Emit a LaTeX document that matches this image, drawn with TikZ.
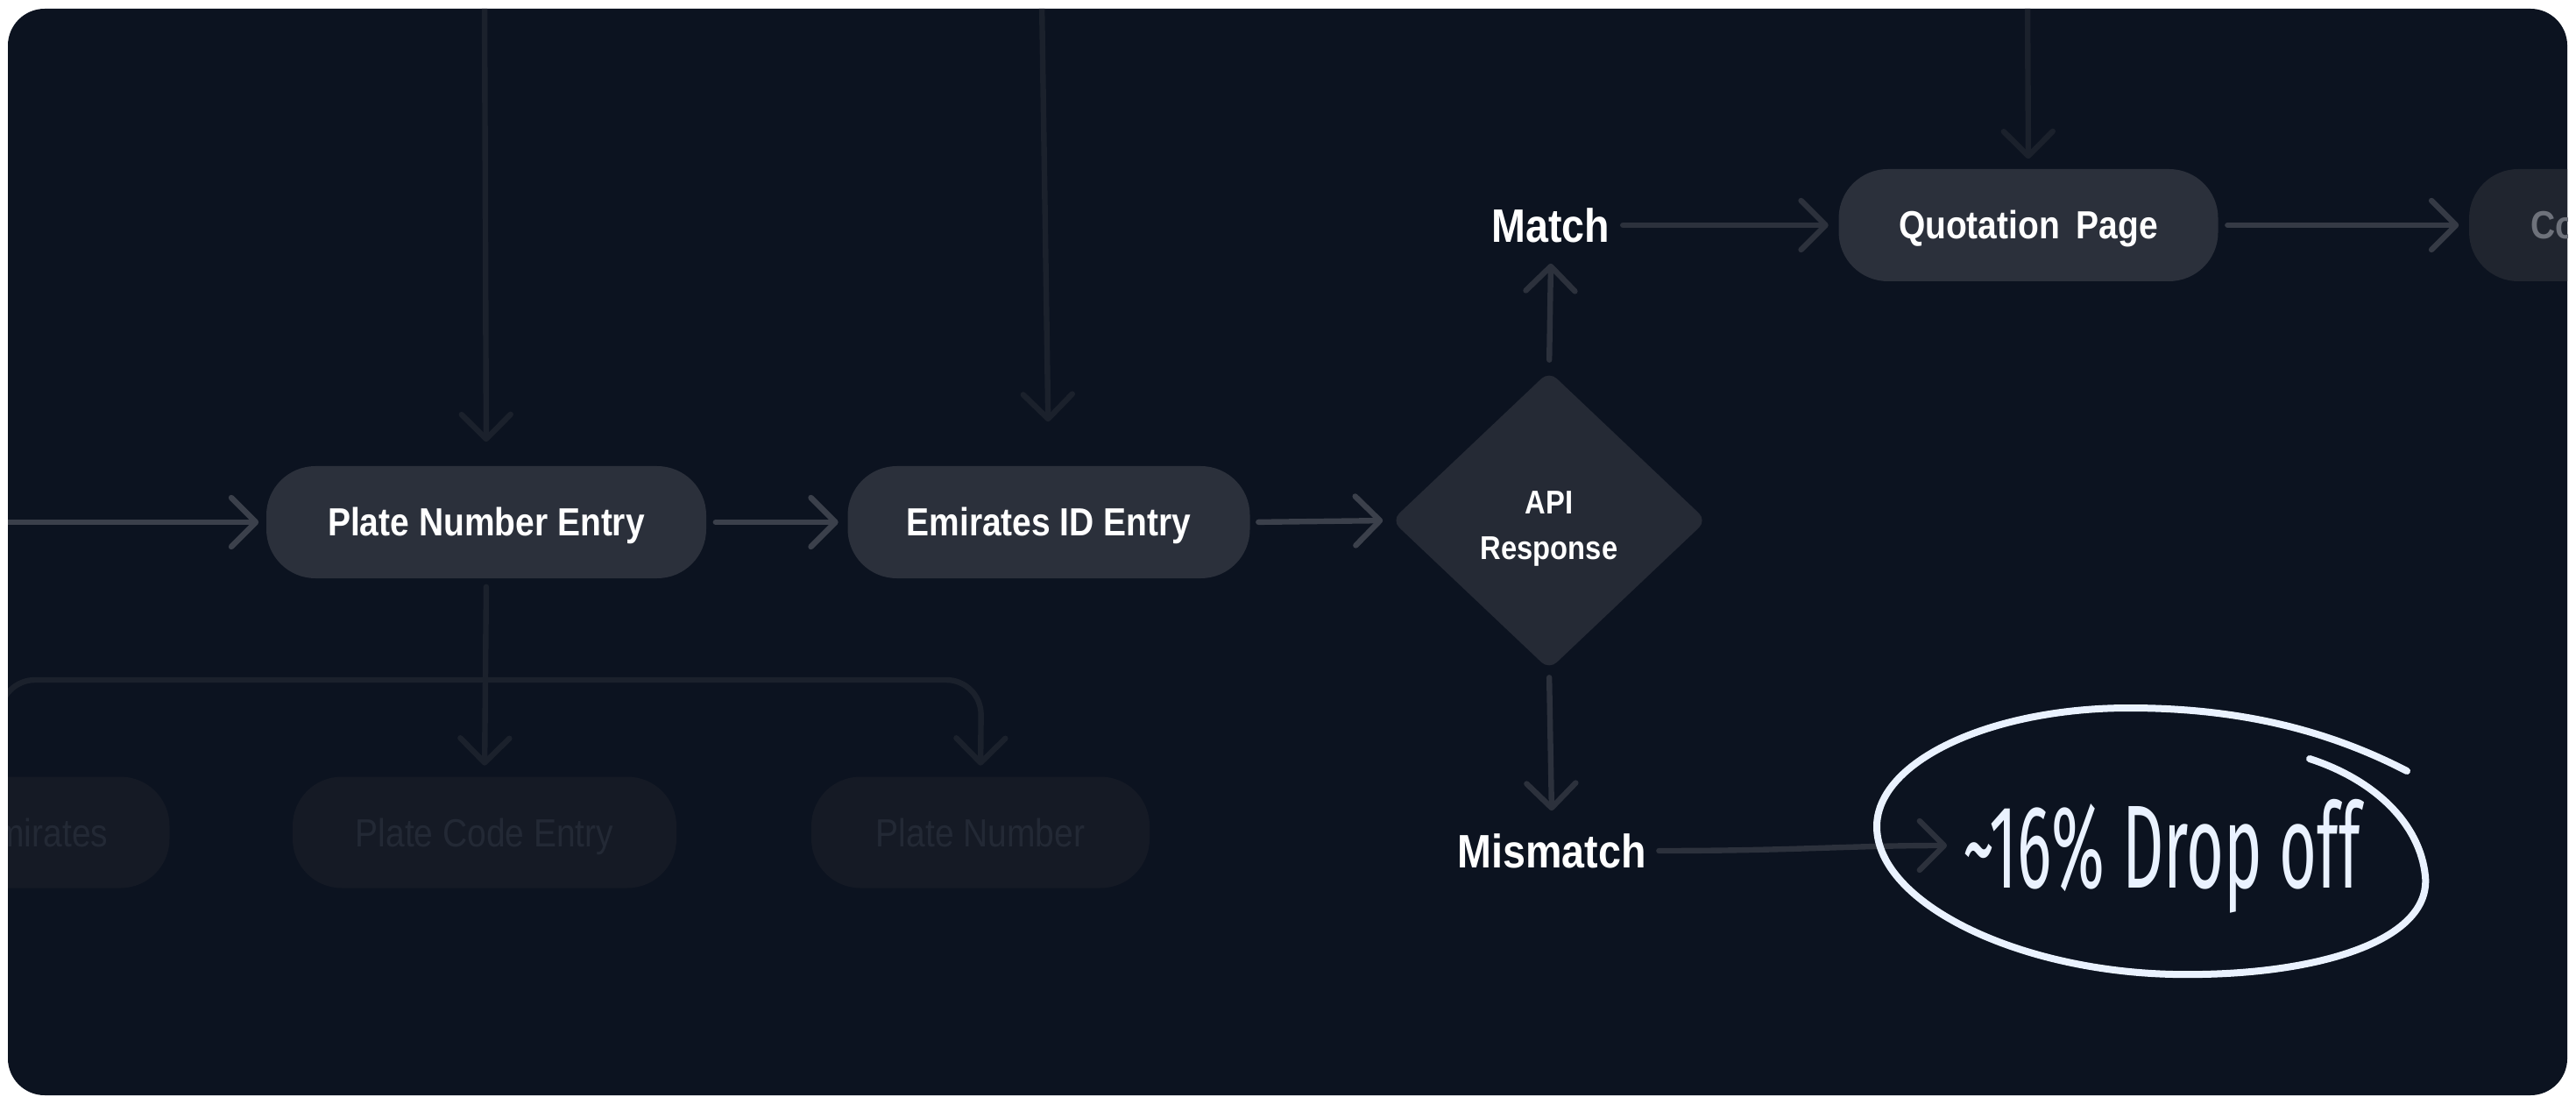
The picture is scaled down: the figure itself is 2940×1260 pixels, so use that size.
\documentclass[tikz,border=0pt]{standalone}
\usepackage{fontspec}
\usepackage{graphicx}
\setmainfont{Liberation Sans}[FakeStretch=0.87]
\newfontfamily\handfont{Fira Sans}
\usetikzlibrary{arrows.meta,shapes.geometric}
\definecolor{cardbg}{HTML}{0C1320}
\definecolor{nodefill}{HTML}{2B303B}
\definecolor{diafill}{HTML}{252A35}
\definecolor{cofill}{HTML}{20252F}
\definecolor{cotext}{HTML}{6E727B}
\definecolor{fadefill}{HTML}{151A25}
\definecolor{fadetext}{HTML}{232935}
\definecolor{fadeline}{HTML}{1B212C}
\definecolor{mainline}{HTML}{3B404B}
\definecolor{qcline}{HTML}{353A45}
\definecolor{midline}{HTML}{2C313C}
\definecolor{handcol}{HTML}{EAF2FF}
\begin{document}
\begin{tikzpicture}[x=0.25pt,y=-0.25pt,
  pill/.style={rectangle, rounded corners=14pt, minimum height=32pt, inner sep=0pt,
    text height=8pt, text depth=0pt,
    fill=nodefill, text=white, font=\bfseries\fontsize{11.2pt}{13pt}\selectfont},
  fadepill/.style={rectangle, rounded corners=14pt, minimum height=31.75pt, inner sep=0pt,
    text height=8pt, text depth=0pt,
    fill=fadefill, text=fadetext, font=\fontsize{11.2pt}{13pt}\selectfont},
  fadetxt/.style={inner sep=0pt, text height=8pt, text depth=0pt, text=fadetext,
    font=\fontsize{11.2pt}{13pt}\selectfont},
  lbl/.style={inner sep=0pt, minimum height=20pt, text=white,
    font=\bfseries\fontsize{13.4pt}{16pt}\selectfont},
  conn/.style={line width=1.6pt, line cap=round,
    -{Straight Barb[length=7pt,width=14pt,round]}},
  mainconn/.style={conn, draw=mainline},
  midconn/.style={conn, draw=midline},
  fadeconn/.style={conn, draw=fadeline},
]
\useasboundingbox (0,0) rectangle (2940,1260);
\fill[white] (0,0) rectangle (2940,1260);
\fill[cardbg, rounded corners=10.5pt] (9,10) rectangle (2930,1250);
\begin{scope}
\clip[rounded corners=10.5pt] (9,10) rectangle (2930,1250);

% coordinates for free ends
\coordinate (inL) at (0,596);
\coordinate (t1) at (553,0);
\coordinate (t2) at (1189,0);
\coordinate (t3) at (2314,0);
\coordinate (bl) at (0,930);
\coordinate (drop) at (2222,965);

% faded lower nodes
\node[fadepill, minimum width=123.25pt] (emi) at (-53,950) {};
\node[fadetxt, anchor=east] (emitext) at (124,950) {Emirates};
\node[fadepill, minimum width=109.5pt] (pce) at (553,950) {Plate Code Entry};
\node[fadepill, minimum width=96.5pt] (pn) at (1119,950) {Plate Number};

% main nodes
\node[pill, minimum width=125.5pt] (pne) at (555,596) {Plate Number Entry};
\node[pill, minimum width=114.75pt] (eie) at (1197,596) {Emirates ID Entry};
\node[shape=diamond, fill=diafill, rounded corners=3pt, inner sep=0pt,
      minimum width=90pt, minimum height=85.25pt, text=white,
      font=\bfseries\fontsize{9.4pt}{13pt}\selectfont] (api) at (1768,594)
      {\raisebox{-2pt}[\height][\depth]{\begin{tabular}{@{}c@{}}API\\Response\end{tabular}}};
\node[lbl] (match) at (1770,257) {Match};
\node[lbl] (mismatch) at (1771,971) {Mismatch};
\node[pill, minimum width=108.25pt] (qp) at (2315,257) {Quotation\hspace{2pt} Page};
\node[pill, fill=cofill, minimum width=100pt] (co) at (3018,257) {};
\node[inner sep=0pt, text height=8pt, text depth=0pt, text=cotext, anchor=west,
      font=\bfseries\fontsize{11.2pt}{13pt}\selectfont] (cotxt) at (2888,257) {Co};

% faint connectors
\draw[fadeconn, shorten >=6.75pt] (t1) -- (pne.north);
\draw[fadeconn, shorten >=12.5pt] (t2) -- (eie.north);
\draw[fadeconn, shorten >=2.75pt] (t3) -- (qp.north);
\draw[fadeconn, shorten <=2.25pt, shorten >=3pt] (pne.south) -- (pce.north);
\draw[fadeconn, rounded corners=10pt, shorten >=3pt] (bl) -- (0,776) -- (1120,776) -- (pn.north);

% main connectors
\draw[mainconn, shorten >=2pt] (inL) -- (pne.west);
\draw[mainconn, shorten <=2.5pt, shorten >=2.5pt] (pne.east) -- (eie.west);
\draw[mainconn, shorten <=2.25pt, shorten >=2.25pt] (eie.east) -- (api.west);
\draw[midconn, shorten <=3pt, shorten >=0.75pt] (api.north) -- (match.south);
\draw[midconn, shorten <=2pt, shorten >=1.25pt] (api.south) -- (mismatch.north);
\draw[midconn, shorten <=3.5pt, shorten >=2.75pt] (match.east) -- (qp.west);
\draw[conn, draw=qcline, shorten <=2.5pt, shorten >=2.75pt] (qp.east) -- (co.west);
\draw[midconn, shorten <=3.5pt] (mismatch.east) .. controls (2050,971) and (2110,965) .. (drop);

% hand-drawn annotation
\node[inner sep=0pt, anchor=base, text=handcol] (dropoff) at (2467,1013)
  {\resizebox{113.5pt}{\height}{\fontsize{33.75pt}{40pt}\handfont\textasciitilde16\% Drop off}};
\draw[handcol, line width=2pt, line cap=round]
  (2747,880) .. controls (2660,835) and (2560,808) .. (2430,808)
  .. controls (2270,808) and (2140,870) .. (2142,945)
  .. controls (2144,1030) and (2300,1108) .. (2480,1112)
  .. controls (2640,1115) and (2775,1075) .. (2768,1000)
  .. controls (2762,940) and (2710,890) .. (2636,866);
\end{scope}
\end{tikzpicture}
\end{document}
